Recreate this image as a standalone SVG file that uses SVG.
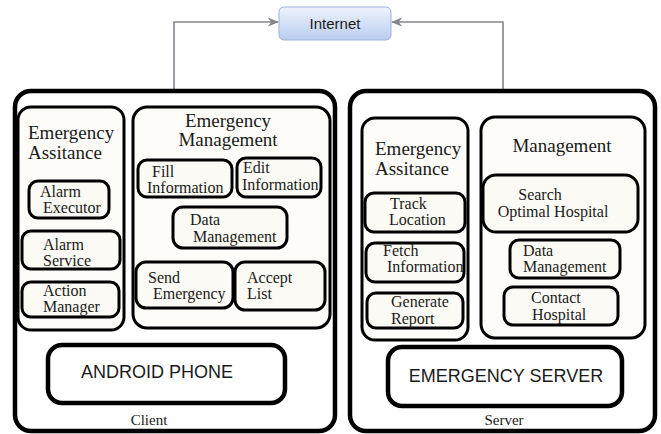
<svg xmlns="http://www.w3.org/2000/svg" width="661" height="434" viewBox="0 0 661 434">
  <defs>
    <linearGradient id="netFill" x1="0" y1="0" x2="0" y2="1">
      <stop offset="0" stop-color="#eef3fd"/>
      <stop offset="1" stop-color="#b9cdf0"/>
    </linearGradient>
    <marker id="arrow" viewBox="0 0 10 10" refX="9" refY="5" markerWidth="7" markerHeight="7" orient="auto">
      <path d="M0,1 L10,5 L0,9 L3,5 Z" fill="#85858f"/>
    </marker>
    <style>
      .outer { fill: #ffffff; stroke: #000; stroke-width: 4.5; }
      .panel { fill: #fdfcf8; stroke: #000; stroke-width: 3; }
      .item { fill: #fcfaf4; stroke: #000; stroke-width: 3; }
      .big { fill: #ffffff; stroke: #000; stroke-width: 4.5; }
      .serif { font-family: "Liberation Serif", "Times New Roman", serif; fill: #1a1a1a; }
      .t19 { font-size: 19px; }
      .t16 { font-size: 16px; }
      .t15 { font-size: 15px; }
      .sans { font-family: "Liberation Sans", Arial, sans-serif; fill: #1a1a1a; }
      .link { fill: none; stroke: #85858f; stroke-width: 1.6; }
    </style>
  </defs>

  <rect width="661" height="434" fill="#ffffff"/>

  <!-- links from both machines up to the Internet -->
  <g id="connectors">
    <path class="link" d="M174,91 V22 H278" marker-end="url(#arrow)"/>
    <path class="link" d="M503,91 V22 H392" marker-end="url(#arrow)"/>
  </g>

  <g id="internet">
    <rect x="279" y="7" width="112" height="33" rx="5" fill="url(#netFill)" stroke="#9fb2d6" stroke-width="1"/>
    <text class="sans" x="335" y="28.5" font-size="15" text-anchor="middle" fill="#333">Internet</text>
  </g>

  <!-- client side -->
  <g id="client">
    <rect class="outer" x="15" y="91" width="320" height="340" rx="16"/>
    <text class="serif t15" x="149" y="425" text-anchor="middle">Client</text>
  </g>

  <g id="client-assistance">
    <rect class="panel" x="18" y="107" width="106" height="223" rx="13"/>
    <text class="serif t19" x="28" y="139">Emergency</text>
    <text class="serif t19" x="28" y="159">Assitance</text>
  </g>
  <g id="alarm-executor">
    <rect class="item" x="29" y="181" width="80" height="37" rx="9"/>
    <text class="serif t16" x="40" y="197">Alarm</text>
    <text class="serif t16" x="43" y="213">Executor</text>
  </g>
  <g id="alarm-service">
    <rect class="item" x="22" y="231" width="98" height="38" rx="9"/>
    <text class="serif t16" x="43" y="250">Alarm</text>
    <text class="serif t16" x="43" y="266">Service</text>
  </g>
  <g id="action-manager">
    <rect class="item" x="22" y="282" width="97" height="35" rx="9"/>
    <text class="serif t16" x="43" y="296">Action</text>
    <text class="serif t16" x="43" y="312">Manager</text>
  </g>

  <g id="client-management">
    <rect class="panel" x="133" y="107" width="197" height="221" rx="14"/>
    <text class="serif t19" x="228" y="127" text-anchor="middle">Emergency</text>
    <text class="serif t19" x="228" y="146" text-anchor="middle">Management</text>
  </g>
  <g id="fill-information">
    <rect class="item" x="138" y="160" width="94" height="37" rx="9"/>
    <text class="serif t16" x="152" y="177">Fill</text>
    <text class="serif t16" x="147" y="193">Information</text>
  </g>
  <g id="edit-information">
    <rect class="item" x="237" y="158" width="84" height="39" rx="9"/>
    <text class="serif t16" x="243" y="173">Edit</text>
    <text class="serif t16" x="242" y="190">Information</text>
  </g>
  <g id="client-data-management">
    <rect class="item" x="173" y="207" width="114" height="41" rx="10"/>
    <text class="serif t16" x="190" y="225">Data</text>
    <text class="serif t16" x="193" y="242">Management</text>
  </g>
  <g id="send-emergency">
    <rect class="item" x="136" y="262" width="97" height="46" rx="10"/>
    <text class="serif t16" x="148" y="283">Send</text>
    <text class="serif t16" x="153" y="299">Emergency</text>
  </g>
  <g id="accept-list">
    <rect class="item" x="235" y="262" width="90" height="48" rx="10"/>
    <text class="serif t16" x="247" y="283">Accept</text>
    <text class="serif t16" x="247" y="299">List</text>
  </g>

  <g id="android-phone">
    <rect class="big" x="48" y="345" width="237" height="58" rx="14"/>
    <text class="sans" x="157" y="378" font-size="18" text-anchor="middle">ANDROID PHONE</text>
  </g>

  <!-- server side -->
  <g id="server">
    <rect class="outer" x="350" y="91" width="305" height="340" rx="16"/>
    <text class="serif t15" x="504" y="425" text-anchor="middle">Server</text>
  </g>

  <g id="server-assistance">
    <rect class="panel" x="362" y="118" width="106" height="222" rx="13"/>
    <text class="serif t19" x="375" y="155">Emergency</text>
    <text class="serif t19" x="375" y="175">Assitance</text>
  </g>
  <g id="track-location">
    <rect class="item" x="365" y="193" width="100" height="39" rx="9"/>
    <text class="serif t16" x="390" y="209">Track</text>
    <text class="serif t16" x="389" y="225">Location</text>
  </g>
  <g id="fetch-information">
    <rect class="item" x="366" y="243" width="98" height="39" rx="9"/>
    <text class="serif t16" x="383" y="256">Fetch</text>
    <text class="serif t16" x="387" y="272">Information</text>
  </g>
  <g id="generate-report">
    <rect class="item" x="367" y="293" width="96" height="35" rx="9"/>
    <text class="serif t16" x="391" y="307">Generate</text>
    <text class="serif t16" x="391" y="324">Report</text>
  </g>

  <g id="server-management">
    <rect class="panel" x="481" y="117" width="164" height="221" rx="14"/>
    <text class="serif t19" x="562" y="152" text-anchor="middle">Management</text>
  </g>
  <g id="search-hospital">
    <rect class="item" x="483" y="175" width="155" height="57" rx="13"/>
    <text class="serif t16" x="540" y="200" text-anchor="middle">Search</text>
    <text class="serif t16" x="553" y="217" text-anchor="middle">Optimal Hospital</text>
  </g>
  <g id="server-data-management">
    <rect class="item" x="510" y="240" width="110" height="38" rx="9"/>
    <text class="serif t16" x="523" y="256">Data</text>
    <text class="serif t16" x="523" y="272">Management</text>
  </g>
  <g id="contact-hospital">
    <rect class="item" x="504" y="287" width="114" height="38" rx="9"/>
    <text class="serif t16" x="531" y="303">Contact</text>
    <text class="serif t16" x="532" y="320">Hospital</text>
  </g>

  <g id="emergency-server">
    <rect class="big" x="388" y="347" width="234" height="59" rx="14"/>
    <text class="sans" x="506" y="382" font-size="18" text-anchor="middle">EMERGENCY SERVER</text>
  </g>
</svg>
